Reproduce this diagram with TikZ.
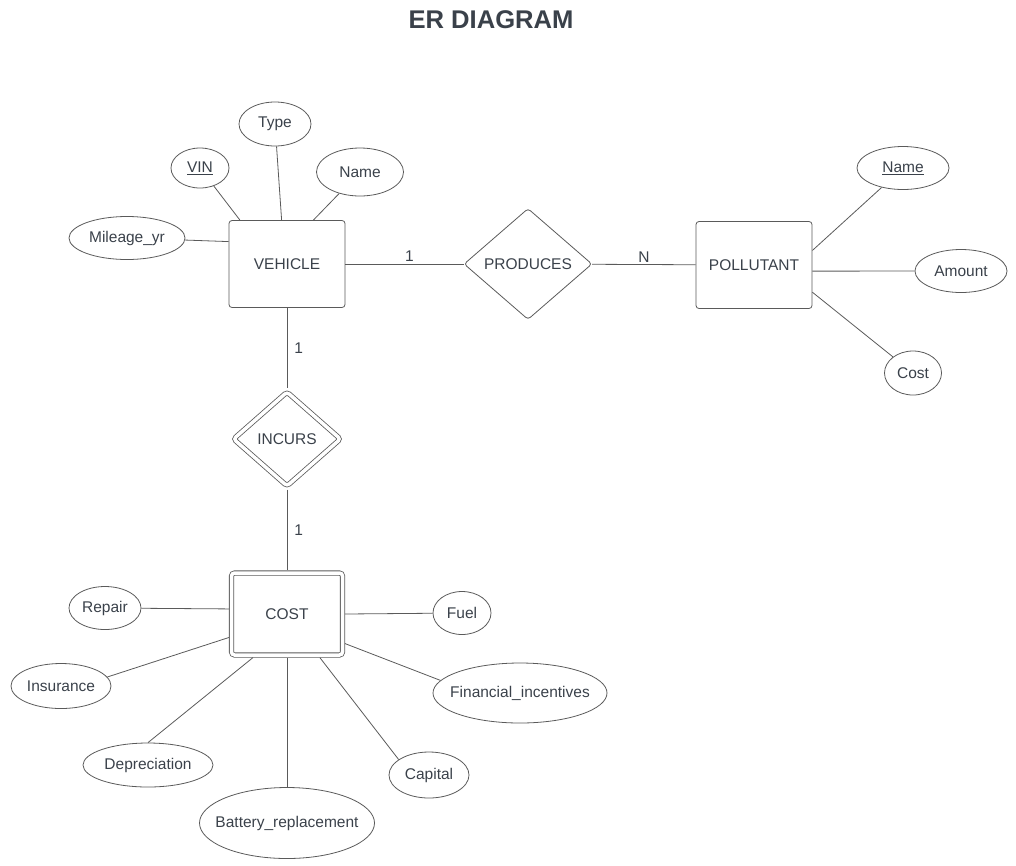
\documentclass[tikz,border=0pt]{standalone}
\usepackage{fontspec}
\setmainfont{Liberation Sans}
\usetikzlibrary{shapes,positioning}
\definecolor{txtgray}{HTML}{3A414A}
\definecolor{linegray}{HTML}{5A5A5A}

\begin{document}
\begin{tikzpicture}[x=1pt,y=-1pt,line width=0.8pt,draw=linegray]
\fontsize{15.5}{18}\selectfont
\tikzstyle{ent}=[draw=linegray, text=txtgray, rounded corners=3pt, minimum width=116pt, minimum height=87pt, inner sep=0pt]
\tikzstyle{weak}=[double=white, double distance=3.5pt, outer sep=2.6pt]
\tikzstyle{rel}=[diamond, draw=linegray, text=txtgray, rounded corners=3pt, inner sep=0pt]
\tikzstyle{attr}=[ellipse, draw=linegray, text=txtgray, inner sep=0pt]
\tikzstyle{card}=[text=txtgray, inner sep=2pt]
\useasboundingbox (0,0) rectangle (1016,865);
\node[text=txtgray, font=\bfseries\fontsize{25.6}{30}\selectfont] (title) at (491,20) {ER DIAGRAM};
% entities and relationships
\node[ent] (veh) at (287,264) {VEHICLE};
\node[ent] (pol) at (754,265) {POLLUTANT};
\node[ent, weak, minimum width=111pt, minimum height=82pt] (cost) at (287,614) {COST};
\node[rel, minimum width=128pt, minimum height=111pt] (prod) at (528,264) {PRODUCES};
\node[rel, weak, minimum width=109pt, minimum height=96pt] (inc) at (287,439) {INCURS};
% attributes
\foreach \name/\txt/\x/\y/\w/\h in {type/Type/275/124/72/44, vin/\underline{VIN}/200/168/58/40,
    vname/Name/360/172/87/48, mileage/Mileage\_yr/127/238/116/43, pname/\underline{Name}/903/168/92/43,
    amount/Amount/961/271/92/43, pcost/Cost/913/373/57/44, repair/Repair/105/608/72/43,
    fuel/Fuel/462/613/58/43, insur/Insurance/61/686/100/45, fin/Financial\_incentives/520/693/174/60,
    depr/Depreciation/148/765/130/44, capital/Capital/429/775/80/46, battery/Battery\_replacement/287/823/175/71}
    \node[attr, minimum width=\w pt, minimum height=\h pt] (\name) at (\x,\y) {\makebox[0pt]{\txt}};
\foreach \a/\b in {type/veh.97, vin/veh.137, vname/veh.59, mileage/veh.159, pname/pol.14, amount/pol.354,
    pcost/pol.335, repair/cost.175, fuel/cost.east, insur.11/cost.202, fin.171/cost.333, depr.north/cost.232,
    battery/cost.south, capital.153/cost.307}
    \draw (\a) -- (\b);
% relationships
\draw (veh) -- node[card, above, xshift=5pt] {1} (prod);
\draw (prod) -- node[card, above] {N} (pol);
\draw (veh) -- node[card, right, xshift=5pt] {1} (inc);
\draw (inc) -- node[card, right, xshift=5pt] {1} (cost);
\end{tikzpicture}
\end{document}
